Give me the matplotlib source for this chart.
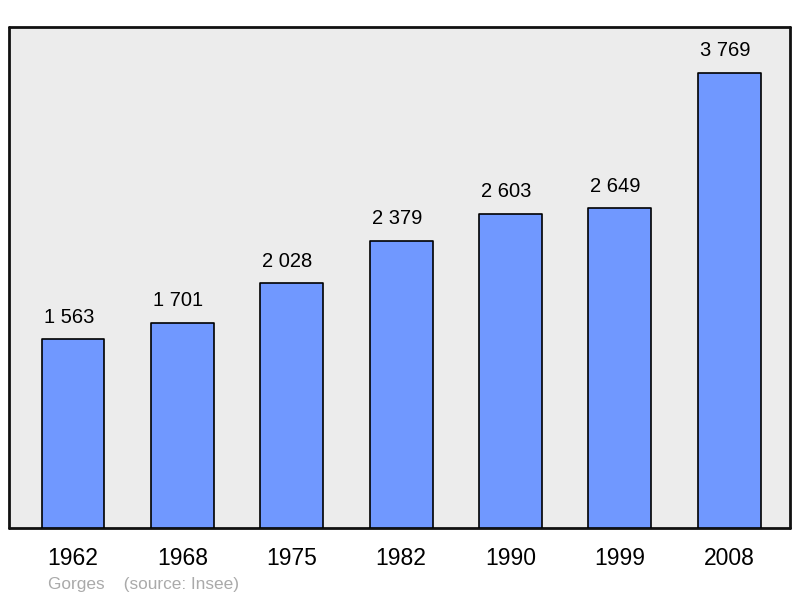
import matplotlib
matplotlib.use("Agg")
import matplotlib.pyplot as plt

years = ["1962", "1968", "1975", "1982", "1990", "1999", "2008"]
population = [1563, 1701, 2028, 2379, 2603, 2649, 3769]
value_labels = ["1 563", "1 701", "2 028", "2 379", "2 603", "2 649", "3 769"]

plt.rcParams['font.family'] = ['Liberation Sans', 'DejaVu Sans']

fig = plt.figure(figsize=(8, 5.98), dpi=100)
ax = fig.add_axes([9/800, 70/598, 781/800, 501/598])
ax.set_facecolor('#ececec')

x = list(range(len(years)))
bars = ax.bar(x, population, width=0.575, color='#7098ff', edgecolor='black',
              linewidth=1.2, zorder=3)
for b in bars:
    b.set_joinstyle('round')

for xi, v, lab in zip(x, population, value_labels):
    ax.annotate(lab, (xi, v), xytext=(-3, 9), textcoords='offset points',
                ha='center', va='bottom', fontsize=14.5, color='black')

ax.set_xlim(-0.585, 6.555)
ax.set_ylim(0, 4150)
ax.set_yticks([])
ax.set_xticks(x)
ax.set_xticklabels(years, fontsize=16.5)
ax.tick_params(axis='x', length=0, pad=14)
for s in ax.spines.values():
    s.set_linewidth(2)
    s.set_color('#111111')
    s.set_capstyle('round')

fig.text(48/800, 1 - 584/598, "Gorges    (source: Insee)", fontsize=12.4,
         color='#aaaaaa', ha='left', va='center')

fig.savefig("out.png", dpi=100)
